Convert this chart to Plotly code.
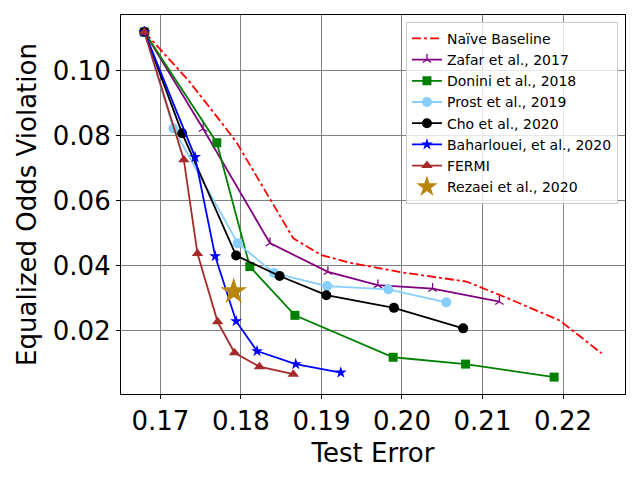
import plotly.graph_objects as go

# test error / equalized odds violation
naive_x = [0.168, 0.1735, 0.1778, 0.1795, 0.1865, 0.19, 0.1935, 0.2, 0.208, 0.213, 0.2196, 0.2248]
naive_y = [0.112, 0.097, 0.0834, 0.0778, 0.0485, 0.0433, 0.041, 0.038, 0.0352, 0.0302, 0.0232, 0.0131]

zafar_x = [0.168, 0.1753, 0.1836, 0.1908, 0.197, 0.2038, 0.2121]
zafar_y = [0.112, 0.0822, 0.047, 0.0382, 0.0341, 0.033, 0.029]

donini_x = [0.168, 0.177, 0.1811, 0.1867, 0.1989, 0.2079, 0.2189]
donini_y = [0.112, 0.0779, 0.0398, 0.0248, 0.0119, 0.0098, 0.0058]

prost_x = [0.168, 0.1716, 0.1796, 0.1841, 0.1907, 0.1983, 0.2055]
prost_y = [0.112, 0.0823, 0.047, 0.0378, 0.0338, 0.0328, 0.0288]

cho_x = [0.168, 0.1727, 0.1794, 0.1848, 0.1906, 0.199, 0.2076]
cho_y = [0.112, 0.0808, 0.0432, 0.0369, 0.031, 0.0271, 0.0208]

baharlouei_x = [0.168, 0.1743, 0.1768, 0.1794, 0.182, 0.1868, 0.1924]
baharlouei_y = [0.112, 0.0735, 0.043, 0.023, 0.0138, 0.0098, 0.0072]

fermi_x = [0.168, 0.1729, 0.1746, 0.1771, 0.1792, 0.1823, 0.1865]
fermi_y = [0.112, 0.0727, 0.0438, 0.0228, 0.0133, 0.009, 0.0067]

rezaei_x = [0.1791]
rezaei_y = [0.0321]

fig = go.Figure()

fig.add_trace(go.Scatter(x=naive_x, y=naive_y, mode="lines", name="Naïve Baseline",
                         line=dict(color="red", width=1.8, dash="dashdot")))
fig.add_trace(go.Scatter(x=zafar_x, y=zafar_y, mode="lines+markers", name="Zafar et al., 2017",
                         line=dict(color="purple", width=1.8),
                         marker=dict(symbol="y-up-open", size=7, line=dict(color="purple", width=1.3))))
fig.add_trace(go.Scatter(x=donini_x, y=donini_y, mode="lines+markers", name="Donini et al., 2018",
                         line=dict(color="green", width=1.8),
                         marker=dict(symbol="square", size=9, color="green")))
fig.add_trace(go.Scatter(x=prost_x, y=prost_y, mode="lines+markers", name="Prost et al., 2019",
                         line=dict(color="lightskyblue", width=1.8),
                         marker=dict(symbol="circle", size=10, color="lightskyblue")))
fig.add_trace(go.Scatter(x=cho_x, y=cho_y, mode="lines+markers", name="Cho et al., 2020",
                         line=dict(color="black", width=1.8),
                         marker=dict(symbol="circle", size=10, color="black")))
fig.add_trace(go.Scatter(x=baharlouei_x, y=baharlouei_y, mode="lines+markers", name="Baharlouei, et al., 2020",
                         line=dict(color="blue", width=1.8),
                         marker=dict(symbol="star", size=9, color="blue")))
fig.add_trace(go.Scatter(x=fermi_x, y=fermi_y, mode="lines+markers", name="FERMI",
                         line=dict(color="brown", width=1.8),
                         marker=dict(symbol="triangle-up", size=10, color="brown")))
fig.add_trace(go.Scatter(x=rezaei_x, y=rezaei_y, mode="markers", name="Rezaei et al., 2020",
                         marker=dict(symbol="star", size=20, color="darkgoldenrod")))

axis_style = dict(showgrid=True, gridcolor="gray", gridwidth=1, showline=True, linecolor="black",
                  linewidth=1.2, mirror=True, ticks="outside", ticklen=4, tickcolor="black",
                  zeroline=False, tickfont=dict(size=26, color="black"))

fig.update_xaxes(range=[0.1651, 0.2277], tickvals=[0.17, 0.18, 0.19, 0.20, 0.21, 0.22],
                 tickformat=".2f", title=dict(text="Test Error", font=dict(size=26, color="black"), standoff=8),
                 **axis_style)
fig.update_yaxes(range=[0.0006, 0.1172], tickvals=[0.02, 0.04, 0.06, 0.08, 0.10],
                 tickformat=".2f", title=dict(text="Equalized Odds Violation", font=dict(size=26, color="black"), standoff=8),
                 **axis_style)

# page body adds an 8px offset, so margins are shifted to compensate
fig.update_layout(
    width=640, height=480,
    margin=dict(l=113, r=23, t=7, b=94),
    paper_bgcolor="white", plot_bgcolor="white",
    font=dict(family="DejaVu Sans", color="black"),
    showlegend=True,
    legend=dict(x=0.986, y=0.982, xanchor="right", yanchor="top",
                bgcolor="rgba(255,255,255,0.8)", bordercolor="#cccccc", borderwidth=1,
                font=dict(size=14)),
)

fig.write_html("out.html")
